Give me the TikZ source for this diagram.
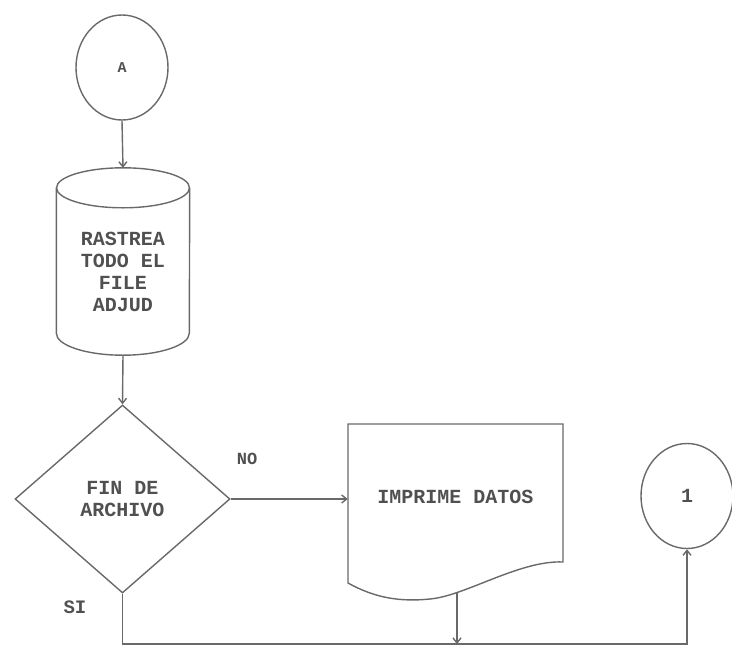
\documentclass[tikz,border=0pt]{standalone}
\usepackage{fontspec}
\setmonofont{Liberation Mono}
\usetikzlibrary{shapes.geometric,arrows.meta,positioning,calc}
\definecolor{flowline}{RGB}{105,105,105}
\definecolor{flowtext}{RGB}{80,80,80}

\begin{document}
\begin{tikzpicture}[x=1pt, y=-1pt,
  line/.style={draw=flowline, line width=1.4pt},
  arrow/.style={line, -{Straight Barb[length=5pt,width=8pt]}},
  txt/.style={font=\fontsize{20}{22}\selectfont\ttfamily\bfseries, text=flowtext, align=center},
  conn/.style={ellipse, line, txt, minimum width=92pt, minimum height=105pt, inner sep=0pt},
  decis/.style={diamond, line, txt, minimum width=215pt, minimum height=188pt,
                inner sep=0pt, aspect=1.14},
  tag/.style={font=\fontsize{17}{19}\selectfont\ttfamily\bfseries, text=flowtext}
]
\useasboundingbox (0,0) rectangle (732,646);

% connector A
\node[conn, font=\fontsize{15}{17}\selectfont\ttfamily\bfseries] (A) at (122,67.5) {A};

% scan of the file (disk)
\node[txt, minimum width=133pt, minimum height=167pt, inner sep=0pt] (scan) at (123,271.5)
  {RASTREA\\TODO EL\\FILE\\ADJUD};
\draw[line] (scan.north west) -- ([yshift=22pt]scan.south west)
  arc[start angle=180, end angle=360, x radius=66.5pt, y radius=22pt] -- (scan.north east);
\draw[line] (scan.north) ellipse[x radius=66.5pt, y radius=20pt];

% end of file?
\node[decis] (dia) at (122.5,499) {FIN DE\\ARCHIVO};

% print
\node[txt, minimum width=215pt, minimum height=146pt] (doc) at (455.5,497) {IMPRIME DATOS};
\draw[line] (348,583) -- (348,424) -- (563,424) -- (563,562)
  .. controls (520,560) and (465,596) .. (430,599)
  .. controls (400,602) and (375,598) .. cycle;
\coordinate (docout) at (457,592);

% connector 1
\node[conn] (c1) at (687,496) {1};

\coordinate (base) at (0,644);

\draw[arrow] (A.south) -- ([yshift=20pt]scan.north);
\draw[arrow] (scan.south) -- (dia.north);
\draw[arrow] (dia.east) -- (dia.east -| doc.west);
\draw[arrow] (docout) -- (docout |- base);
\draw[arrow] (dia.south) |- (c1.south |- base) -- (c1.south);

\node[tag] (no) at (247,459) {NO};
\node[tag, font=\fontsize{19}{21}\selectfont\ttfamily\bfseries] (si) at (75,607) {SI};

\end{tikzpicture}
\end{document}
